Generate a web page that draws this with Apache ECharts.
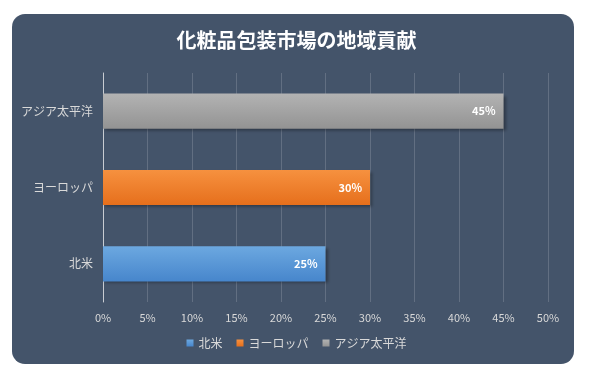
<!DOCTYPE html>
<html>
<head>
<meta charset="utf-8">
<script src="https://cdn.jsdelivr.net/npm/echarts@6/dist/echarts.min.js"></script>
<style>
html,body{margin:0;padding:0;background:#fff;}
#c{width:593px;height:378px;}
</style>
</head>
<body>
<div id="c"></div>
<script>
const categories = ['北米', 'ヨーロッパ', 'アジア太平洋'];
const seriesNames = ['北米', 'ヨーロッパ', 'アジア太平洋'];
const naValues = [25, null, null];
const euValues = [null, 30, null];
const apValues = [null, null, 45];
const tickMax = 50;
const tickStep = 5;

const chart = echarts.init(document.getElementById('c'));
const font = '"Noto Sans CJK JP", "Noto Sans", sans-serif';
function grad(a, b) {
  return new echarts.graphic.LinearGradient(0, 0, 0, 1, [{offset: 0, color: a}, {offset: 1, color: b}]);
}
function mk(name, data, c1, c2) {
  return {
    name: name, type: 'bar', stack: 'all', data: data, barWidth: '46%',
    itemStyle: {
      color: grad(c1, c2),
      shadowColor: 'rgba(0,0,0,0.35)', shadowBlur: 3, shadowOffsetX: 2, shadowOffsetY: 2
    },
    label: {
      show: true, position: 'insideRight', distance: 8,
      formatter: p => p.value == null ? '' : p.value + '%',
      color: '#fff', fontWeight: 'bold', fontSize: 11, fontFamily: font
    }
  };
}
chart.setOption({
  backgroundColor: '#fff',
  animation: false,
  graphic: [{
    type: 'rect', z: -10, silent: true,
    shape: {x: 12, y: 14, width: 562, height: 350, r: 13},
    style: {fill: '#44546A'}
  }],
  title: {
    text: '化粧品包装市場の地域貢献', left: 'center', top: 25,
    textStyle: {color: '#fff', fontSize: 20, fontWeight: 'bold', fontFamily: font}
  },
  legend: {
    bottom: 24, left: 'center', itemWidth: 7, itemHeight: 7, itemGap: 14,
    icon: 'rect',
    textStyle: {color: '#d9d9d9', fontSize: 12, fontFamily: font},
    data: seriesNames
  },
  grid: {left: 103, right: 45, top: 73, bottom: 76},
  xAxis: {
    type: 'value', min: 0, max: tickMax, interval: tickStep,
    axisLabel: {formatter: '{value}%', color: '#d9d9d9', fontSize: 11, margin: 10, fontFamily: font},
    axisLine: {show: false}, axisTick: {show: false},
    splitLine: {lineStyle: {color: 'rgba(255,255,255,0.16)', width: 1}}
  },
  yAxis: {
    type: 'category', data: categories,
    axisLine: {show: true, lineStyle: {color: '#c8ccd2', width: 1}},
    axisTick: {show: false},
    axisLabel: {color: '#d9d9d9', fontSize: 12, margin: 10, fontFamily: font}
  },
  series: [
    mk(seriesNames[0], naValues, '#6CA8E0', '#4786CC'),
    mk(seriesNames[1], euValues, '#F6913F', '#E66F1C'),
    mk(seriesNames[2], apValues, '#B3B3B3', '#939393')
  ]
});
</script>
</body>
</html>
